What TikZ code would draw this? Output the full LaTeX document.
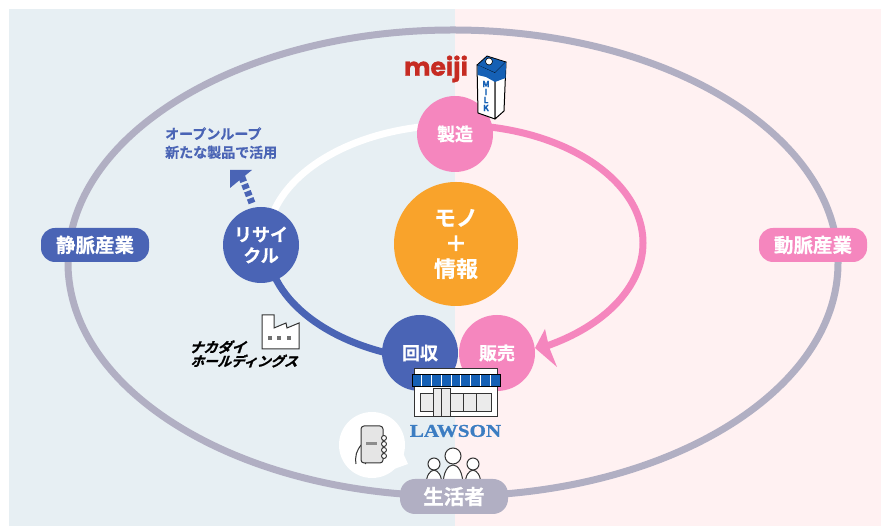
\documentclass[tikz,border=0pt]{standalone}
\usepackage{fontspec}
\usetikzlibrary{calc}
\setmainfont[FakeBold=0.6]{Noto Sans CJK JP Bold}
\newfontfamily\heavyjp[FakeBold=1.6]{Noto Sans CJK JP Bold}
\newfontfamily\meijifont[FakeBold=1.2]{Poppins Bold}
\newfontfamily\lawsonfont[FakeBold=0.8]{Liberation Serif Bold}
\definecolor{leftbg}{HTML}{E7EFF3}
\definecolor{rightbg}{HTML}{FFF1F2}
\definecolor{ringgrey}{HTML}{B1AFC3}
\definecolor{bluec}{HTML}{4A64B5}
\definecolor{pinkc}{HTML}{F586BE}
\definecolor{orangec}{HTML}{F9A32B}
\definecolor{redlogo}{HTML}{C62B22}
\definecolor{lawblue}{HTML}{3C7DC2}
\definecolor{storeblue}{HTML}{1560B5}
\definecolor{lineink}{HTML}{333333}
\tikzset{
  x=1pt,y=1pt,
  pillbox/.style={rounded corners=14pt,minimum width=108pt,minimum height=34pt,inner sep=0pt,text=white,font=\fontsize{19.5}{22}\selectfont},
  stagecircle/.style={circle,minimum size=76pt,inner sep=0pt,text=white,align=center,font=\fontsize{18}{21}\selectfont},
  ringline/.style={line width=7pt,line cap=butt,line join=round},
  ringarc/.style={x radius=188,y radius=118},
  icon/.style={draw=lineink,line width=1pt,line join=round},
  person/.style={draw=lineink,line width=1pt,fill=white},
}
\begin{document}
\begin{tikzpicture}
\useasboundingbox (0,0) rectangle (889,526);
\fill[white] (0,0) rectangle (889,526);
\fill[leftbg] (9,0) rectangle (455,517);
\fill[rightbg] (455,0) rectangle (881,517);
% outer ring
\coordinate (outerc) at (453,263);
\draw[ringgrey,line width=7pt] (outerc) ellipse[x radius=385,y radius=233];
% ring anchor points under the discs
\coordinate (ringtop) at (455,401);
\coordinate (ringleft) at (267,283);
% rings
\draw[ringline,white] (ringtop) arc[start angle=90,end angle=180,ringarc];
\draw[ringline,bluec] (ringleft) arc[start angle=180,end angle=262,ringarc];
\draw[ringline,pinkc] (ringtop) arc[start angle=90,end angle=-61.5,ringarc];
% stage discs
\node[stagecircle,fill=pinkc] (seizo) at (455,392) {製造};
\node[stagecircle,fill=bluec] (recycle) at (261,281) {リサイ\\クル};
\node[stagecircle,fill=pinkc] (hanbai) at (497,173) {販売};
\node[stagecircle,fill=bluec] (kaishu) at (420,173) {回収};
% arrowhead of the pink ring
\fill[pinkc] (535,178) -- (545,197) -- (549,179) -- (557,159) -- cycle;
% centre
\node[circle,fill=orangec,minimum size=124pt,inner sep=0pt,text=white,align=center,font=\fontsize{22}{25.5}\selectfont] (centre) at (456,282) {モノ\\＋\\情報};
% dashed open loop arrow
\coordinate (loopstart) at (252,323);
\coordinate (looptip) at (241,351);
\draw[bluec,line width=7pt,dash pattern=on 5pt off 2.6pt] (loopstart) -- (looptip);
\fill[bluec] (230,356) -- (252,356) -- (230,338) -- cycle;
\node[anchor=north west,text=bluec,align=left,inner sep=0pt,font=\fontsize{14}{18.5}\selectfont] (openloop) at (165,399) {オープンループ\\新たな製品で活用};
% side pills
\node[pillbox,fill=bluec] (vein) at (95,281) {静脈産業};
\node[pillbox,fill=pinkc] (artery) at (813,281) {動脈産業};
% meiji
\node[text=redlogo,inner sep=0pt,font=\meijifont\fontsize{25}{25}\selectfont] (meiji) at (436,457) {meiji};
% milk carton
\fill[white,draw=black,line width=1pt,line join=round] (477,461) -- (495,453) -- (495,407) -- (478,413) -- cycle;
\fill[white,draw=black,line width=1pt,line join=round] (495,453) -- (506,464) -- (504,415) -- (495,407) -- cycle;
\fill[storeblue,draw=black,line width=.8pt,line join=round] (477,461) -- (487,470) -- (506,464) -- (495,453) -- cycle;
\fill[storeblue] (477.5,461) -- (495,453) -- (495,444) -- (486,449) -- (477.5,451) -- cycle;
\fill[storeblue] (495,453) -- (506,464) -- (505.5,448) -- (495,444) -- cycle;
\draw[black,line width=.6pt,fill=white] (489,464.5) circle (3.5);
\node[text=storeblue,inner sep=0pt,align=center,font=\fontsize{8.5}{8}\selectfont] (milk) at (486,430) {M\\I\\L\\K};
% factory
\draw[draw=lineink,line width=1pt,fill=white,line join=miter] (262,211) -- (274,211) -- (274,198) -- (286,203) -- (287,198) -- (299,203) -- (299,177) -- (262,177) -- cycle;
\foreach \sx in {270,279,289}{\fill[lineink!70] (\sx-2,186) rectangle (\sx+2,190);}
\node[anchor=west,xslant=.35,inner sep=0pt,text=black,font=\heavyjp\fontsize{14}{14}\selectfont] (nakadai1) at (191,179) {ナカダイ};
\node[anchor=west,xslant=.35,inner sep=0pt,text=black,font=\heavyjp\fontsize{13.5}{14}\selectfont] (nakadai2) at (192,165) {ホールディングス};
% Lawson store
\fill[white,draw=lineink,line width=1pt] (414,109) rectangle (497,140);
\fill[white,draw=lineink,line width=1pt] (414,151) rectangle (497,157);
\fill[storeblue,draw=black,line width=1pt] (412,139) rectangle (500,151);
\foreach \bx in {421,431,441,451,460,470,480,490}{\draw[white,line width=.3pt] (\bx,139.5) -- (\bx,150.5);}
\foreach \wl/\wr in {420/433,450/463,463/476,476/491}{\fill[black!8,draw=lineink,line width=1pt] (\wl,114) rectangle (\wr,132);}
\fill[black!8,draw=lineink,line width=1pt] (433,109) rectangle (450,137);
\draw[lineink,line width=1pt] (441.5,109) -- (441.5,137);
\node[text=lawblue,inner sep=0pt,xscale=1.17,font=\lawsonfont\fontsize{18}{18}\selectfont] (lawson) at (455.5,95) {LAWSON};
% phone bubble
\node[circle,fill=white,minimum size=66pt,inner sep=0pt] (bubble) at (372,81) {};
\fill[white] ($(bubble.center)+(22,-24)$) -- (408,62) -- ($(bubble.center)+(31,-8)$) -- cycle;
\draw[lineink,line width=1pt,fill=white] (356,62) .. controls (355,70) and (356,75) .. (362,82) -- (362,66) -- (366,62);
\draw[icon,fill=black!10,rounded corners=3pt] (361,63) rectangle (383,100);
\fill[black!45] (366,81) rectangle (377,84);
\foreach \fy in {70,76,82,88}{\draw[lineink,line width=.9pt,fill=white] (384,\fy) circle (2.5);}
% people
\draw[person] (434,62) circle (6);
\draw[person] (473,62) circle (6);
\draw[person] (453,70) circle (8);
\draw[person] (426,40) .. controls (426,61) and (442,61) .. (442,40);
\draw[person] (465,40) .. controls (465,61) and (481,61) .. (481,40);
\draw[person] (443,40) .. controls (443,68) and (463,68) .. (463,40);
% consumer pill
\node[pillbox,fill=ringgrey,minimum height=35pt,rounded corners=15pt,font=\fontsize{20.5}{22}\selectfont] (seikatsu) at (454,29.5) {生活者};
\end{tikzpicture}
\end{document}
